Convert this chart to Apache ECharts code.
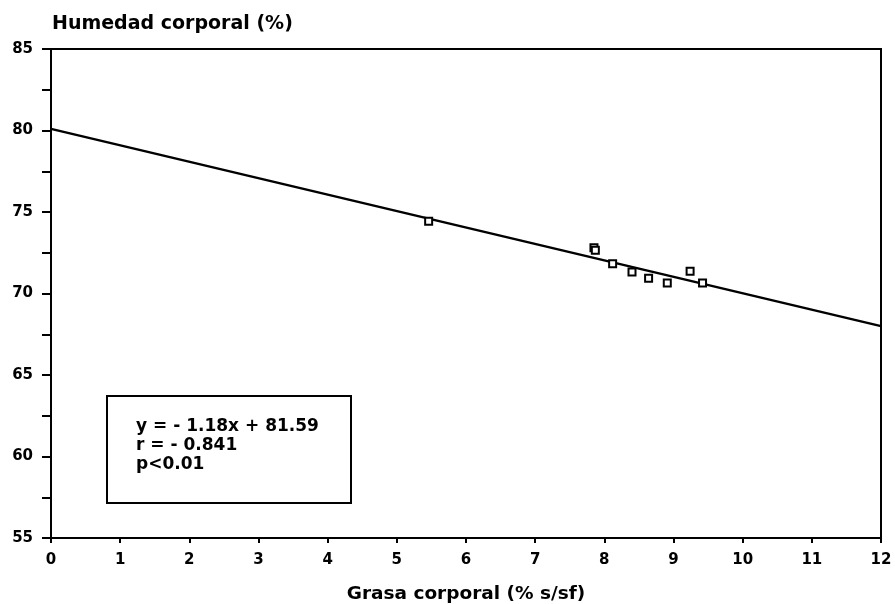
<!DOCTYPE html>
<html>
<head>
<meta charset="utf-8">
<script src="https://cdn.jsdelivr.net/npm/echarts@6/dist/echarts.min.js"></script>
<style>
  html, body { margin: 0; padding: 0; background: #fff; }
  #chart { width: 895px; height: 604px; }
</style>
</head>
<body>
<div id="chart"></div>
<script>
// Body fat (% of fat-free dry weight) vs body moisture (%)
const grasa   = [5.46, 7.85, 7.87, 8.12, 8.40, 8.64, 8.91, 9.24, 9.42];
const humedad = [74.43, 72.80, 72.65, 71.82, 71.32, 70.94, 70.65, 71.37, 70.64];

// Fitted line, drawn across the whole x range
const lineX = [0, 12];
const lineY = [80.1, 68.0];

const xTicks = { min: 0, max: 12, step: 1 };
const yTicks = { min: 55, max: 85, step: 2.5, labelEvery: 5 };

const statsText = ['y = - 1.18x + 81.59', 'r = - 0.841', 'p<0.01'];

const FONT = 'DejaVu Sans';

const chart = echarts.init(document.getElementById('chart'), null, { renderer: 'canvas' });

chart.setOption({
  animation: false,
  backgroundColor: '#fff',
  title: {
    text: 'Humedad corporal (%)',
    left: 47,
    top: 10,
    textStyle: { fontFamily: FONT, fontWeight: 'bold', fontSize: 19, color: '#000' }
  },
  grid: {
    left: 51, right: 14, top: 49, bottom: 66,
    outerBoundsMode: 'none',
    containLabel: false,
    show: true, borderColor: '#000', borderWidth: 2, backgroundColor: 'transparent'
  },
  xAxis: {
    type: 'value',
    min: xTicks.min, max: xTicks.max, interval: xTicks.step,
    name: 'Grasa corporal (% s/sf)',
    nameLocation: 'middle',
    nameGap: 47,
    nameTextStyle: { fontFamily: FONT, fontWeight: 'bold', fontSize: 18.5, color: '#000' },
    axisLine: { show: true, lineStyle: { color: '#000', width: 2 } },
    axisTick: { show: true, length: 5, lineStyle: { color: '#000', width: 2 } },
    axisLabel: { margin: 15, fontFamily: FONT, fontWeight: 'bold', fontSize: 15, color: '#000' },
    splitLine: { show: false }
  },
  yAxis: {
    type: 'value',
    min: yTicks.min, max: yTicks.max, interval: yTicks.step,
    axisLine: { show: true, lineStyle: { color: '#000', width: 2 } },
    axisTick: { show: true, length: 9, lineStyle: { color: '#000', width: 2 } },
    axisLabel: {
      margin: 18, fontFamily: FONT, fontWeight: 'bold', fontSize: 15, color: '#000',
      formatter: v => (v % yTicks.labelEvery === 0 ? String(v) : '')
    },
    splitLine: { show: false }
  },
  graphic: [
    {
      type: 'rect',
      shape: { x: 107, y: 396, width: 244, height: 107 },
      style: { fill: '#fff', stroke: '#000', lineWidth: 2 },
      z: 100
    },
    {
      type: 'text',
      x: 136, y: 417,
      style: {
        text: statsText.join('\n'),
        fontFamily: FONT, fontWeight: 'bold', fontSize: 17,
        lineHeight: 19, fill: '#000'
      },
      z: 101
    }
  ],
  series: [
    {
      type: 'line',
      data: lineX.map((x, i) => [x, lineY[i]]),
      showSymbol: false,
      lineStyle: { color: '#000', width: 2.5 },
      z: 2
    },
    {
      type: 'scatter',
      data: grasa.map((x, i) => [x, humedad[i]]),
      symbol: 'rect',
      symbolSize: 7,
      itemStyle: { color: '#fff', borderColor: '#000', borderWidth: 2, opacity: 1 },
      z: 3
    }
  ]
});
</script>
</body>
</html>
